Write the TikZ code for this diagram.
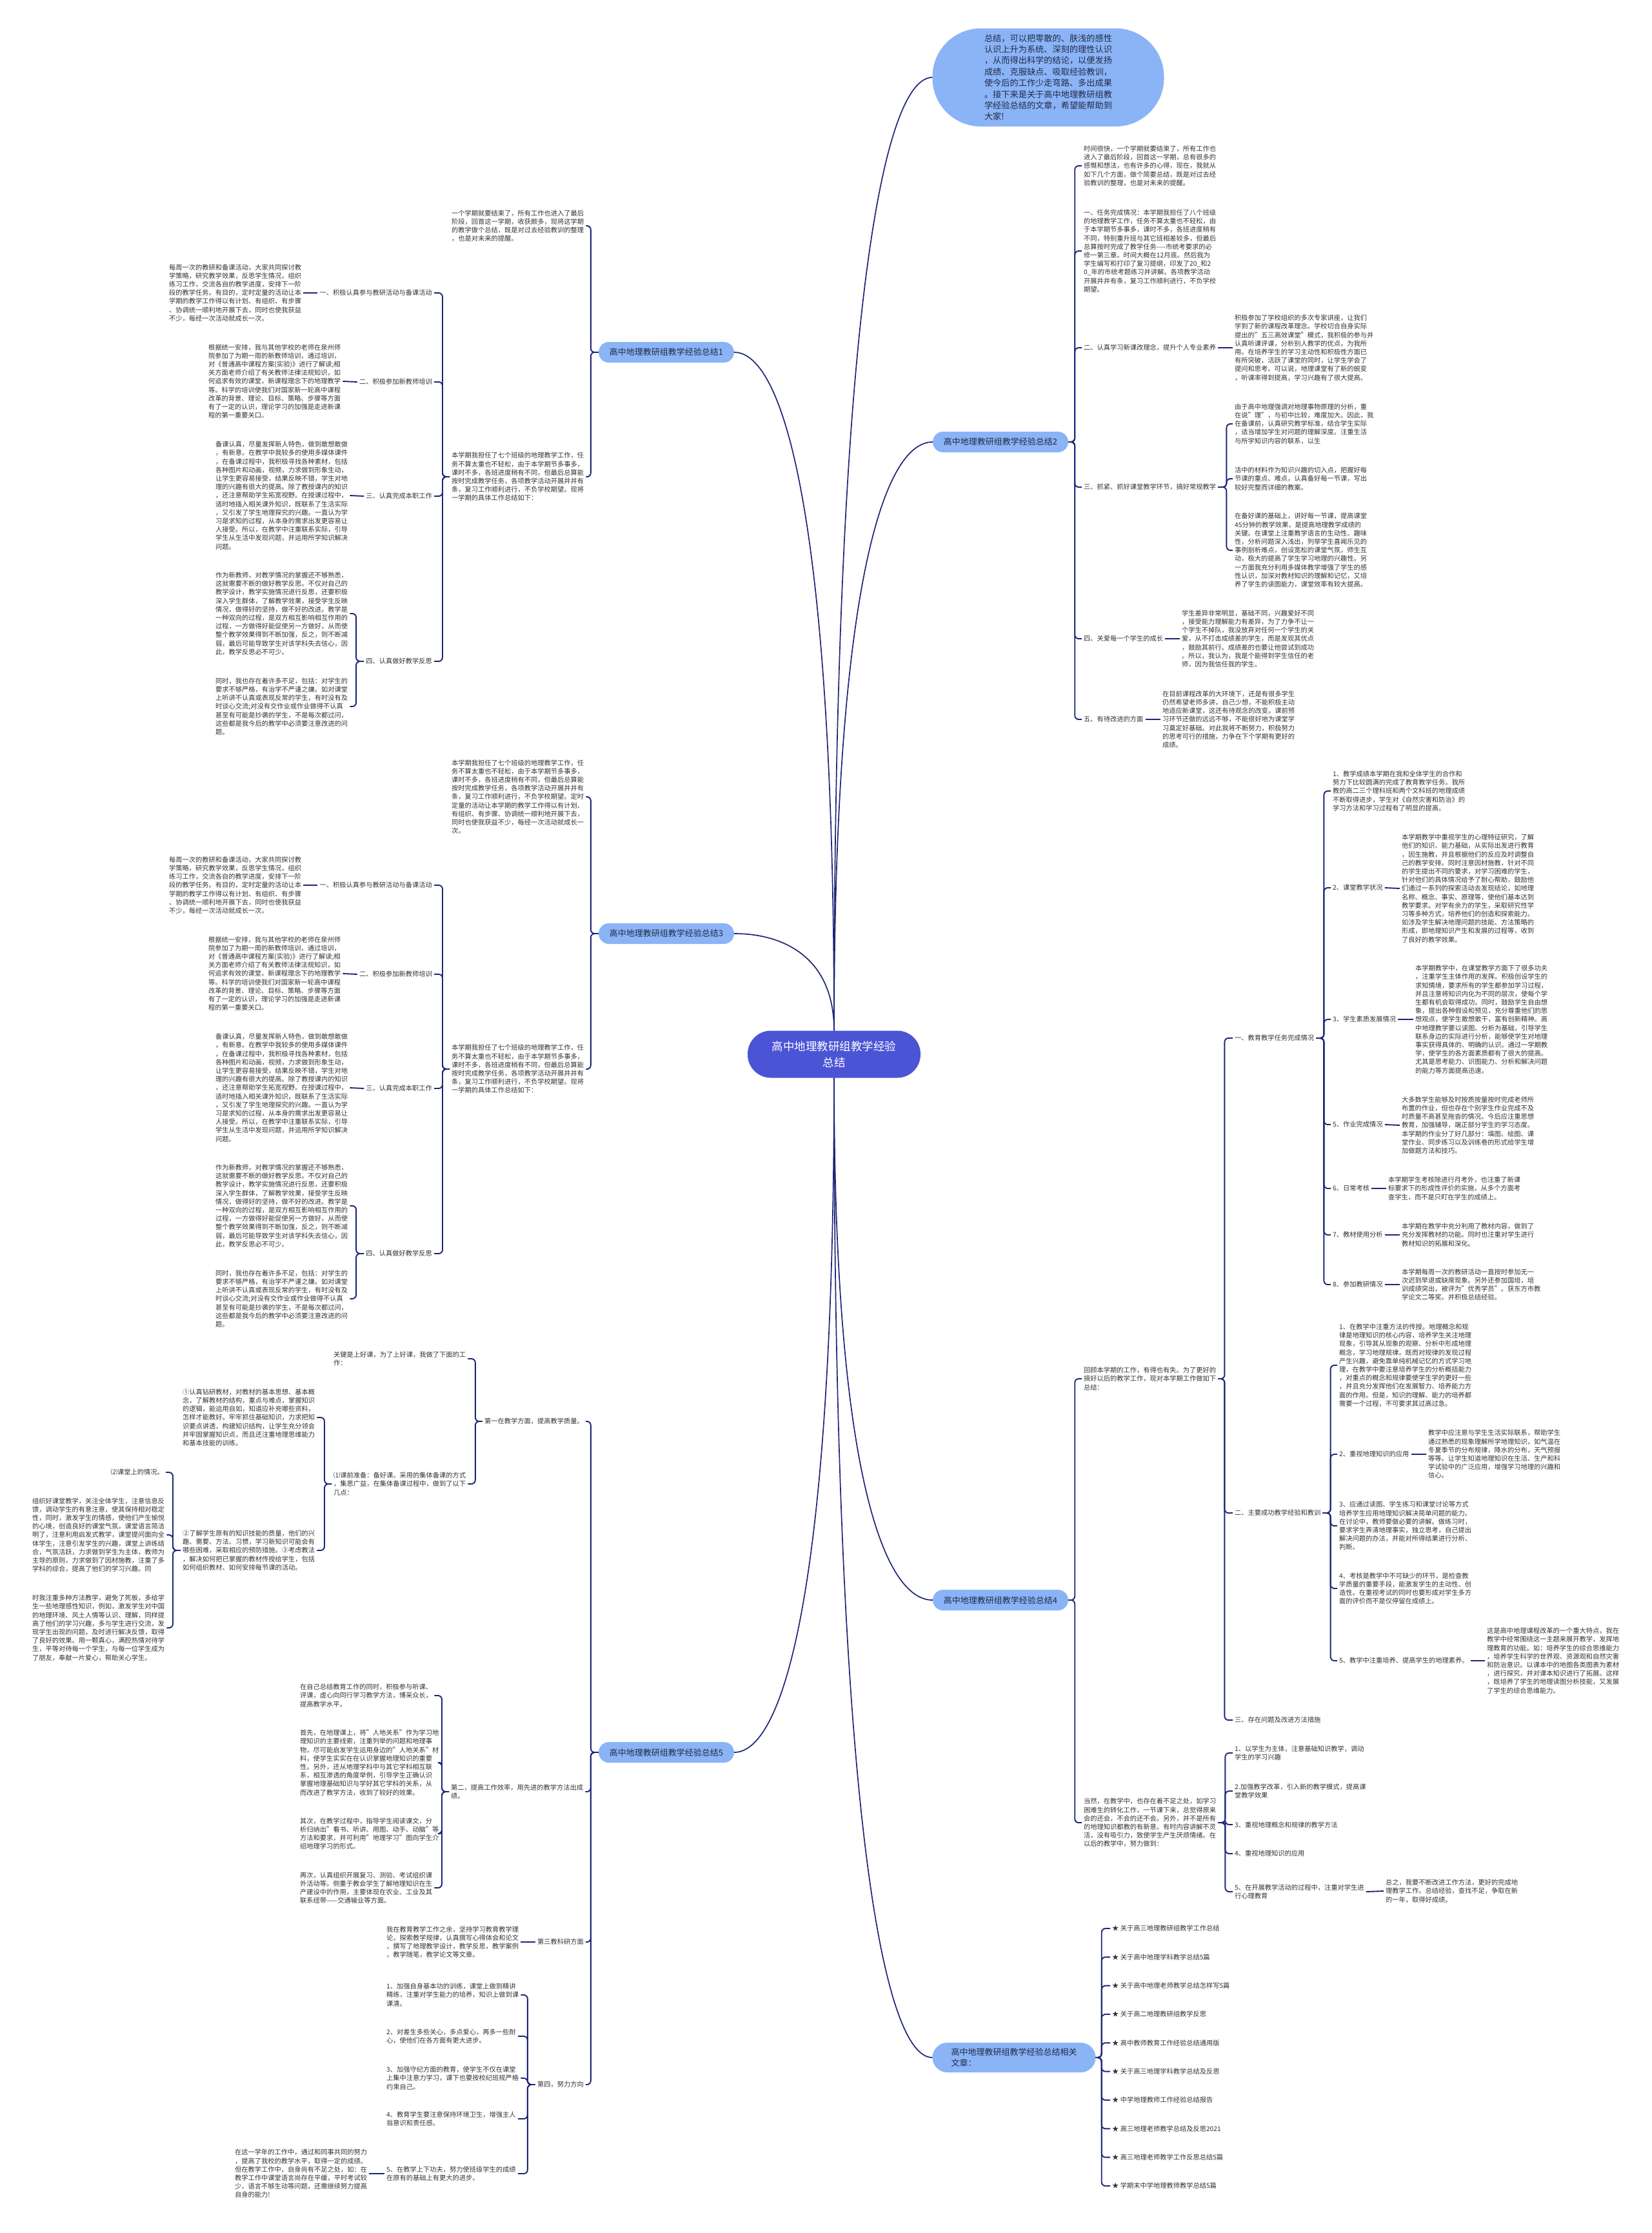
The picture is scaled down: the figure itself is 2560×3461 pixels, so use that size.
\documentclass[tikz,border=0pt]{standalone}
\usepackage{fontspec}
\setmainfont{Noto Sans CJK SC}
\usetikzlibrary{calc}
\definecolor{rblue}{RGB}{74,84,212}
\definecolor{lblue}{RGB}{138,180,246}
\definecolor{navy}{RGB}{30,38,118}
\definecolor{ntext}{RGB}{34,42,70}
\definecolor{tgray}{RGB}{51,51,51}
\newcommand\smalltxt{\fontsize{10.25}{13.2}\selectfont}

\begin{document}
\begin{tikzpicture}[x=1pt,y=-1pt,
        root/.style={fill=rblue,text=white,rounded corners=36pt,minimum width=268,minimum height=73,align=center,font=\fontsize{17.5}{25}\selectfont},
        sub/.style={fill=lblue,text=ntext,rounded corners=16pt,minimum width=210,minimum height=32,align=left,font=\fontsize{13}{17.4}\selectfont},
        txt/.style={text=tgray,align=left,inner xsep=3pt,inner ysep=1pt,font=\smalltxt},
        link/.style={draw=navy,line width=1.7pt,to path={.. controls ($(\tikztostart)!.75!(\tikztostart|-\tikztotarget)$) and ($(\tikztotarget)!.5!(\tikztostart|-\tikztotarget)$) .. (\tikztotarget) \tikztonodes}},
        brk/.style={draw=navy,line width=1.9pt,rounded corners=6pt}]
        \path[use as bounding box,fill=white] (0,0) rectangle (2560,3461);
        \node[root](root) at (1293,1634){高中地理教研组教学经验\\总结};
        \node[sub,rounded corners=75pt,minimum width=359,minimum height=152,font=\fontsize{13.2}{17.4}\selectfont](intro) at (1625,120)
              {总结，可以把零散的、肤浅的感性\\认识上升为系统、深刻的理性认识\\，从而得出科学的结论，以便发扬\\成绩、克服缺点、吸取经验教训，\\使今后的工作少走弯路、多出成果\\。接下来是关于高中地理教研组教\\学经验总结的文章，希望能帮助到\\大家!};
        \node[sub](s1) at (1033,546){高中地理教研组教学经验总结1};
        \node[sub](s2) at (1551,685){高中地理教研组教学经验总结2};
        \node[sub](s3) at (1033,1447){高中地理教研组教学经验总结3};
        \node[sub](s4) at (1551,2480){高中地理教研组教学经验总结4};
        \node[sub](s5) at (1033,2716){高中地理教研组教学经验总结5};
        \node[sub,minimum width=253,minimum height=46,rounded corners=23pt](rel) at (1572,3189){高中地理教研组教学经验总结相关\\文章：};
        \foreach \t in {intro,s2}{\draw[link](root.north) to (\t.west);}
        \foreach \t in {s1,s3}{\draw[link](root.north) to (\t.east);}
        \foreach \t in {s4,rel}{\draw[link](root.south) to (\t.west);}
        \draw[link](root.south) to (s5.east);

        \node[txt,anchor=west](s2a) at (1677,257){时间很快，一个学期就要结束了，所有工作也\\进入了最后阶段，回首这一学期，总有很多的\\感慨和想法，也有许多的心得，现在，我就从\\如下几个方面，做个简要总结，既是对过去经\\验教训的整理，也是对未来的提醒。};
        \node[txt,anchor=west](s2b) at (1677,389){一、任务完成情况：本学期我担任了八个班级\\的地理教学工作，任务不算太重也不轻松，由\\于本学期节多事多，课时不多，各班进度稍有\\不同，特别重升班与其它班相差较多，但最后\\总算按时完成了教学任务-{}-{}-{}-市统考要求的必\\修一第三章。时间大概在12月底。然后我为\\学生编写和打印了复习提纲，印发了20\_和2\\0\_年的市统考题练习并讲解。各项教学活动\\开展井井有条，复习工作顺利进行，不负学校\\期望。};
        \node[txt,anchor=west](s2c) at (1677,539){二、认真学习新课改理念，提升个人专业素养};
        \node[txt,anchor=west](s2cx) at (1911,539){积极参加了学校组织的多次专家讲座，让我们\\学到了新的课程改革理念。学校切合自身实际\\提出的"五三高效课堂"模式，我积极的参与并\\认真听课评课，分析别人教学的优点，为我所\\用。在培养学生的学习主动性和积极性方面已\\有所突破，活跃了课堂的同时，让学生学会了\\提问和思考。可以说，地理课堂有了新的蜕变\\，听课率得到提高，学习兴趣有了很大提高。};
        \node[txt,anchor=west](s2d) at (1677,755){三、抓紧、抓好课堂教学环节，搞好常规教学};
        \node[txt,anchor=west](s2d1) at (1911,657){由于高中地理强调对地理事物原理的分析，重\\在说"理"，与初中比较，难度加大。因此，我\\在备课前，认真研究教学标准，结合学生实际\\，适当增加学生对问题的理解深度。注重生活\\与所学知识内容的联系，以生};
        \node[txt,anchor=west](s2d2) at (1911,742){活中的材料作为知识兴趣的切入点，把握好每\\节课的重点、难点，认真备好每一节课，写出\\较好完整而详细的教案。};
        \node[txt,anchor=west](s2d3) at (1911,853){在备好课的基础上，讲好每一节课，提高课堂\\45分钟的教学效果，是提高地理教学成绩的\\关键。在课堂上注重教学语言的生动性、趣味\\性，分析问题深入浅出，列举学生喜闻乐见的\\事例剖析难点，创设宽松的课堂气氛，师生互\\动，极大的提高了学生学习地理的兴趣性。另\\一方面我充分利用多媒体教学增强了学生的感\\性认识，加深对教材知识的理解和记忆，又培\\养了学生的读图能力，课堂效率有较大提高。};
        \node[txt,anchor=west](s2e) at (1677,990){四、关爱每一个学生的成长};
        \node[txt,anchor=west](s2ex) at (1829,990){学生差异非常明显，基础不同，兴趣爱好不同\\，接受能力理解能力有差异，为了力争不让一\\个学生不掉队，我没放弃对任何一个学生的关\\爱，从不打击成绩差的学生，而是发现其优点\\，鼓励其前行。成绩差的也要让他尝试到成功\\。所以，我认为，我是个能得到学生信任的老\\师，因为我信任我的学生。};
        \node[txt,anchor=west](s2f) at (1677,1115){五、有待改进的方面};
        \node[txt,anchor=west](s2fx) at (1799,1115){在目前课程改革的大环境下，还是有很多学生\\仍然希望老师多讲，自己少想，不能积极主动\\地适应新课堂，这还有待观念的改变。课前预\\习环节还做的远远不够，不能很好地为课堂学\\习奠定好基础。对此我将不断努力，积极努力\\的思考可行的措施，力争在下个学期有更好的\\成绩。};
        \foreach \c in {a,b,c,d,e,f}{\draw[brk](s2.east) -- ++(10,0) |- (s2\c.west);}
        \foreach \c in {1,2,3}{\draw[brk](s2d.east) -- ++(13,0) |- (s2d\c.west);}
        \foreach \c in {c,e,f}{\draw[brk](s2\c.east) -- (s2\c x.west);}

        \node[txt,anchor=west](s4a) at (1677,2137){回顾本学期的工作，有得也有失。为了更好的\\搞好以后的教学工作，现对本学期工作做如下\\总结：};
        \node[txt,anchor=west](s4a1) at (1911,1609){一、教育教学任务完成情况};
        \node[txt,anchor=west](g1a) at (2063,1226){1、教学成绩本学期在我和全体学生的合作和\\努力下比较圆满的完成了教育教学任务。我所\\教的高二三个理科班和两个文科班的地理成绩\\不断取得进步，学生对《自然灾害和防治》的\\学习方法和学习过程有了明显的提高。};
        \node[txt,anchor=west](g1b) at (2063,1376){2、课堂教学状况};
        \node[txt,anchor=west](g1bx) at (2170,1377){本学期教学中重视学生的心理特征研究，了解\\他们的知识、能力基础，从实际出发进行教育\\，因生施教，并且根据他们的反应及时调整自\\己的教学安排。同时注意因材施教，针对不同\\的学生提出不同的要求，对学习困难的学生，\\针对他们的具体情况给予了耐心帮助，鼓励他\\们通过一系列的探索活动去发现结论，如地理\\名称、概念、事实、原理等，使他们基本达到\\教学要求。对学有余力的学生，采取研究性学\\习等多种方式，培养他们的创造和探索能力。\\如涉及学生解决地理问题的技能、方法策略的\\形成，即地理知识产生和发展的过程等，收到\\了良好的教学效果。};
        \node[txt,anchor=west](g1c) at (2063,1580){3、学生素质发展情况};
        \node[txt,anchor=west](g1cx) at (2191,1580){本学期教学中，在课堂教学方面下了很多功夫\\，注重学生主体作用的发挥。积极创设学生的\\求知情境，要求所有的学生都参加学习过程，\\并且注意将知识内化为不同的层次，使每个学\\生都有机会取得成功。同时，鼓励学生自由想\\象，提出各种假设和预见，充分尊重他们的思\\想观点，使学生敢想敢干，富有创新精神。高\\中地理教学要以读图、分析为基础，引导学生\\联系身边的实际进行分析，能够使学生对地理\\事实获得具体的、明确的认识。通过一学期教\\学，使学生的各方面素质都有了很大的提高。\\尤其是思考能力、识图能力、分析和解决问题\\的能力等方面提高迅速。};
        \node[txt,anchor=west](g1d) at (2063,1743){5、作业完成情况};
        \node[txt,anchor=west](g1dx) at (2170,1744){大多数学生能够及时按质按量按时完成老师所\\布置的作业，但也存在个别学生作业完成不及\\时质量不高甚至拖沓的情况。今后应注重思想\\教育，加强辅导，端正部分学生的学习态度。\\本学期的作业分了好几部分：填图、绘图、课\\堂作业、同步练习以及训练卷的形式给学生增\\加做题方法和技巧。};
        \node[txt,anchor=west](g1e) at (2063,1842){6、日常考核};
        \node[txt,anchor=west](g1ex) at (2149,1842){本学期学生考核除进行月考外，也注重了新课\\标要求下的形成性评价的实施，从多个方面考\\查学生，而不是只盯在学生的成绩上。};
        \node[txt,anchor=west](g1f) at (2063,1914){7、教材使用分析};
        \node[txt,anchor=west](g1fx) at (2170,1914){本学期在教学中充分利用了教材内容，做到了\\充分发挥教材的功能。同时也注重对学生进行\\教材知识的拓展和深化。};
        \node[txt,anchor=west](g1g) at (2063,1991){8、参加教研情况};
        \node[txt,anchor=west](g1gx) at (2170,1991){本学期每周一次的教研活动一直按时参加无一\\次迟到早退或缺席现象。另外还参加国培，培\\训成绩突出，被评为"优秀学员"。获东方市教\\学论文二等奖。并积极总结经验。};
        \node[txt,anchor=west](s4a2) at (1911,2345){二、主要成功教学经验和教训};
        \node[txt,anchor=west](g2a) at (2073,2116){1、在教学中注重方法的传授。地理概念和规\\律是地理知识的核心内容，培养学生关注地理\\现象，引导其从现象的观察、分析中形成地理\\概念，学习地理规律。既而对规律的发现过程\\产生兴趣，避免靠单纯机械记忆的方式学习地\\理，在教学中要注意培养学生的分析概括能力\\，对重点的概念和规律要使学生学的更好一些\\，并且充分发挥他们在发展智力、培养能力方\\面的作用。但是，知识的理解、能力的培养都\\需要一个过程，不可要求其过高过急。};
        \node[txt,anchor=west](g2b) at (2073,2254){2、重视地理知识的应用};
        \node[txt,anchor=west](g2bx) at (2211,2254){教学中应注意与学生生活实际联系，帮助学生\\通过熟悉的现象理解所学地理知识，如气温在\\冬夏季节的分布规律，降水的分布，天气预报\\等等。让学生知道地理知识在生活、生产和科\\学试验中的广泛应用，增强学习地理的兴趣和\\信心。};
        \node[txt,anchor=west](g2c) at (2073,2365){3、应通过读图、学生练习和课堂讨论等方式\\培养学生应用地理知识解决简单问题的能力。\\在讨论中，教师要做必要的讲解。做练习时，\\要求学生弄清地理事实，独立思考，自己提出\\解决问题的办法，并能对所得结果进行分析、\\判断。};
        \node[txt,anchor=west](g2d) at (2073,2462){4、考核是教学中不可缺少的环节，是检查教\\学质量的重要手段，能激发学生的主动性、创\\造性。在重视考试的同时也要形成对学生多方\\面的评价而不是仅停留在成绩上。};
        \node[txt,anchor=west](g2e) at (2073,2574){5、教学中注重培养、提高学生的地理素养。};
        \node[txt,anchor=west](g2ex) at (2302,2574){这是高中地理课程改革的一个重大特点，我在\\教学中经常围绕这一主题来展开教学，发挥地\\理教育的功能。如：培养学生的综合思维能力\\，培养学生科学的世界观、资源观和自然灾害\\和防治意识。以课本中的地图各类图表为素材\\，进行探究，并对课本知识进行了拓展。这样\\，既培养了学生的地理读图分析技能，又发展\\了学生的综合思维能力。};
        \node[txt,anchor=west](s4a3) at (1911,2666){三、存在问题及改进方法措施};
        \node[txt,anchor=west](s4b) at (1677,2825){当然，在教学中，也存在着不足之处，如学习\\困难生的转化工作，一节课下来，总觉得原来\\会的还会，不会的还不会。另外，并不是所有\\的地理知识都教的有新意。有时内容讲解不灵\\活，没有吸引力，致使学生产生厌烦情绪。在\\以后的教学中，努力做到：};
        \node[txt,anchor=west](h1) at (1911,2717){1、以学生为主体，注意基础知识教学，调动\\学生的学习兴趣};
        \node[txt,anchor=west](h2) at (1911,2776){2.加强教学改革，引入新的教学模式，提高课\\堂教学效果};
        \node[txt,anchor=west](h3) at (1911,2828){3、重视地理概念和规律的教学方法};
        \node[txt,anchor=west](h4) at (1911,2873){4、重视地理知识的应用};
        \node[txt,anchor=west](h5) at (1911,2932){5、在开展教学活动的过程中，注重对学生进\\行心理教育};
        \node[txt,anchor=west](h5x) at (2145,2931){总之，我要不断改进工作方法，更好的完成地\\理教学工作。总结经验，查找不足，争取在新\\的一年，取得好成绩。};
        \foreach \c in {a,b}{\draw[brk](s4.east) -- ++(10,0) |- (s4\c.west);}
        \foreach \c in {1,2,3}{\draw[brk](s4a.east) -- ++(10,0) |- (s4a\c.west);}
        \foreach \c in {a,b,c,d,e,f,g}{\draw[brk](s4a1.east) -- ++(12,0) |- (g1\c.west);}
        \foreach \c in {b,c,d,e,f,g}{\draw[brk](g1\c.east) -- (g1\c x.west);}
        \foreach \c in {a,b,c,d,e}{\draw[brk](s4a2.east) -- ++(12,0) |- (g2\c.west);}
        \foreach \c in {b,e}{\draw[brk](g2\c.east) -- (g2\c x.west);}
        \foreach \c in {1,...,5}{\draw[brk](s4b.east) -- ++(11,0) |- (h\c.west);}
        \draw[brk](h5.east) -- (h5x.west);

        \foreach \t [count=\i] in {关于高三地理教研组教学工作总结,关于高中地理学科教学总结5篇,关于高中地理老师教学总结怎样写5篇,关于高二地理教研组教学反思,高中教师教育工作经验总结通用版,关于高三地理学科教学总结及反思,中学地理教师工作经验总结报告,高三地理老师教学总结及反思2021,高三地理老师教学工作反思总结5篇,学期末中学地理教师教学总结5篇}
          {\node[txt,anchor=west](r\i) at (1721,{2989+44.33*(\i-1)}){★ \t};
           \draw[brk](rel.east) -- ++(9,0) |- (r\i.west);}

        \node[txt,anchor=west](s1a) at (697,350){一个学期就要结束了，所有工作也进入了最后\\阶段，回首这一学期，收获颇多，现将这学期\\的教学做个总结，既是对过去经验教训的整理\\，也是对未来的提醒。};
        \node[txt,anchor=west](s3a) at (697,1235){本学期我担任了七个班级的地理教学工作，任\\务不算太重也不轻松，由于本学期节多事多，\\课时不多，各班进度稍有不同，但最后总算能\\按时完成教学任务，各项教学活动开展井井有\\条，复习工作顺利进行，不负学校期望。定时\\定量的活动让本学期的教学工作得以有计划、\\有组织、有步骤、协调统一顺利地开展下去，\\同时也使我获益不少，每经一次活动就成长一\\次。};
        \foreach \p/\dy in {s1/0,s3/918}{
          \node[txt,anchor=west](\p b) at (697,{739+\dy}){本学期我担任了七个班级的地理教学工作，任\\务不算太重也不轻松，由于本学期节多事多，\\课时不多，各班进度稍有不同，但最后总算能\\按时完成教学任务，各项教学活动开展井井有\\条，复习工作顺利进行，不负学校期望。现将\\一学期的具体工作总结如下：};
          \node[txt,anchor=east](\p b1) at (673,{454+\dy}){一、积极认真参与教研活动与备课活动};
          \node[txt,anchor=west](\p b1x) at (259,{454+\dy}){每周一次的教研和备课活动，大家共同探讨教\\学策略，研究教学效果，反思学生情况，组织\\练习工作，交流各自的教学进度，安排下一阶\\段的教学任务。有目的，定时定量的活动让本\\学期的教学工作得以有计划、有组织、有步骤\\、协调统一顺利地开展下去，同时也使我获益\\不少，每经一次活动就成长一次。};
          \node[txt,anchor=east](\p b2) at (673,{592+\dy}){二、积极参加新教师培训};
          \node[txt,anchor=west](\p b2x) at (320,{591+\dy}){根据统一安排，我与其他学校的老师在泉州师\\院参加了为期一周的新教师培训，通过培训，\\对《普通高中课程方案(实验)》进行了解读;相\\关方面老师介绍了有关教师法律法规知识，如\\何追求有效的课堂，新课程理念下的地理教学\\等。科学的培训使我们对国家新一轮高中课程\\改革的背景、理论、目标、策略、步骤等方面\\有了一定的认识，理论学习的加强是走进新课\\程的第一重要关口。};
          \node[txt,anchor=east](\p b3) at (673,{769+\dy}){三、认真完成本职工作};
          \node[txt,anchor=west](\p b3x) at (331,{768+\dy}){备课认真，尽量发挥新人特色，做到敢想敢做\\，有新意。在教学中我较多的使用多媒体课件\\，在备课过程中，我积极寻找各种素材，包括\\各种图片和动画，视频，力求做到形象生动，\\让学生更容易接受，结果反映不错，学生对地\\理的兴趣有很大的提高。除了教授课内的知识\\，还注意帮助学生拓宽视野。在授课过程中，\\适时地插入相关课外知识，既联系了生活实际\\，又引发了学生地理探究的兴趣。一直认为学\\习是求知的过程，从本身的需求出发更容易让\\人接受。所以，在教学中注重联系实际，引导\\学生从生活中发现问题，并运用所学知识解决\\问题。};
          \node[txt,anchor=east](\p b4) at (673,{1025+\dy}){四、认真做好教学反思};
          \node[txt,anchor=west](\p b4a) at (331,{951+\dy}){作为新教师，对教学情况的掌握还不够熟悉，\\这就需要不断的做好教学反思。不仅对自己的\\教学设计，教学实施情况进行反思，还要积极\\深入学生群体，了解教学效果，接受学生反映\\情况，做得好的坚持，做不好的改进。教学是\\一种双向的过程，是双方相互影响相互作用的\\过程，一方做得好能促使另一方做好，从而使\\整个教学效果得到不断加强，反之，则不断减\\弱，最后可能导致学生对该学科失去信心，因\\此，教学反思必不可少。};
          \node[txt,anchor=west](\p b4b) at (331,{1095+\dy}){同时，我也存在着许多不足，包括：对学生的\\要求不够严格，有治学不严谨之嫌。如对课堂\\上听讲不认真或表现反常的学生，有时没有及\\时谈心交流;对没有交作业或作业做得不认真\\甚至有可能是抄袭的学生，不是每次都过问，\\这些都是我今后的教学中必须要注意改进的问\\题。};
          \foreach \c in {a,b}{\draw[brk](\p.west) -- ++(-12,0) |- (\p\c.east);}
          \foreach \c in {1,...,4}{\draw[brk](\p b.west) -- ++(-11,0) |- (\p b\c.east);}
          \foreach \c in {1,2,3}{\draw[brk](\p b\c.west) -- (\p b\c x.east);}
          \foreach \c in {a,b}{\draw[brk](\p b4.west) -- ++(-12,0) |- (\p b4\c.east);}
        }

        \node[txt,anchor=east](s5a) at (908,2203){第一在教学方面，提高教学质量。};
        \node[txt,anchor=west](p1) at (514,2106){关键是上好课，为了上好课，我做了下面的工\\作：};
        \node[txt,anchor=west](p2) at (514,2300){⑴课前准备：备好课。采用的集体备课的方式\\，集思广益，在集体备课过程中，做到了以下\\几点：};
        \node[txt,anchor=west](p2a) at (280,2197){①认真钻研教材，对教材的基本思想、基本概\\念，了解教材的结构，重点与难点，掌握知识\\的逻辑，能运用自如，知道应补充哪些资料，\\怎样才能教好。牢牢抓住基础知识，力求把知\\识要点讲透，构建知识结构，让学生充分领会\\并牢固掌握知识点，而且还注重地理思维能力\\和基本技能的训练。};
        \node[txt,anchor=west](p2b) at (280,2403){②了解学生原有的知识技能的质量，他们的兴\\趣、需要、方法、习惯，学习新知识可能会有\\哪些困难，采取相应的预防措施。③考虑教法\\，解决如何把已掌握的教材传授给学生，包括\\如何组织教材、如何安排每节课的活动。};
        \node[txt,anchor=east](p2b1) at (257,2282){⑵课堂上的情况。};
        \node[txt,anchor=west](p2b2) at (47,2379){组织好课堂教学，关注全体学生，注意信息反\\馈，调动学生的有意注意，使其保持相对稳定\\性，同时，激发学生的情感，使他们产生愉悦\\的心境，创造良好的课堂气氛，课堂语言简洁\\明了，注意利用启发式教学，课堂提问面向全\\体学生，注意引发学生的兴趣，课堂上讲练结\\合，气氛活跃，力求做到学生为主体，教师为\\主导的原则，力求做到了因材施教，注重了多\\学科的综合，提高了他们的学习兴趣。同};
        \node[txt,anchor=west](p2b3) at (47,2523){时我注重多种方法教学，避免了死板，多给学\\生一些地理感性知识，例如，激发学生对中国\\的地理环境、风土人情等认识、理解，同样提\\高了他们的学习兴趣，多与学生进行交流，发\\现学生出现的问题，及时进行解决反馈，取得\\了良好的效果。用一颗真心，满腔热情对待学\\生，平等对待每一个学生，与每一位学生成为\\了朋友，奉献一片爱心，帮助关心学生。};
        \node[txt,anchor=west](s5b) at (696,2777){第二，提高工作效率，用先进的教学方法出成\\绩。};
        \node[txt,anchor=west](q1) at (462,2628){在自己总结教育工作的同时，积极参与听课、\\评课，虚心向同行学习教学方法，博采众长，\\提高教学水平。};
        \node[txt,anchor=west](q2) at (462,2732){首先，在地理课上，将"人地关系"作为学习地\\理知识的主要线索，注重列举的问题和地理事\\物，尽可能启发学生运用身边的"人地关系"材\\料，使学生实实在在认识掌握地理知识的重要\\性。另外，还从地理学科中与其它学科相互联\\系，相互渗透的角度举例，引导学生正确认识\\掌握地理基础知识与学好其它学科的关系，从\\而改进了教学方法，收到了较好的效果。};
        \node[txt,anchor=west](q3) at (462,2842){其次，在教学过程中，指导学生阅读课文，分\\析归纳出"看书、听讲、用图、动手、动脑"等\\方法和要求，并可利用"地理学习"图向学生介\\绍地理学习的形式。};
        \node[txt,anchor=west](q4) at (462,2926){再次，认真组织开展复习、测验、考试组织课\\外活动等。侧重于教会学生了解地理知识在生\\产建设中的作用，主要体现在农业、工业及其\\联系纽带——交通输业等方面。};
        \node[txt,anchor=east](s5c) at (908,3010){第三教科研方面};
        \node[txt,anchor=west](s5cx) at (596,3010){我在教育教学工作之余，坚持学习教育教学理\\论，探索教学规律，认真撰写心得体会和论文\\，撰写了地理教学设计，教学反思，教学案例\\，教学随笔，教学论文等文章。};
        \node[txt,anchor=east](s5d) at (908,3231){第四，努力方向};
        \node[txt,anchor=west](w1) at (596,3092){1、加强自身基本功的训练，课堂上做到精讲\\精练，注重对学生能力的培养，知识上做到课\\课清。};
        \node[txt,anchor=west](w2) at (596,3156){2、对差生多些关心，多点爱心，再多一些耐\\心，使他们在各方面有更大进步。};
        \node[txt,anchor=west](w3) at (596,3221){3、加强守纪方面的教育，使学生不仅在课堂\\上集中注意力学习，课下也要按校纪班规严格\\约束自己。};
        \node[txt,anchor=west](w4) at (596,3284){4、教育学生要注意保持环境卫生，增强主人\\翁意识和责任感。};
        \node[txt,anchor=west](w5) at (596,3369){5、在教学上下功夫，努力使班级学生的成绩\\在原有的基础上有更大的进步。};
        \node[txt,anchor=west](w5x) at (361,3369){在这一学年的工作中，通过和同事共同的努力\\，提高了我校的教学水平，取得一定的成绩。\\但在教学工作中，自身尚有不足之处，如：在\\教学工作中课堂语言尚存在平缓，平时考试较\\少，语言不够生动等问题，还需继续努力提高\\自身的能力!};
        \foreach \c in {a,b,c,d}{\draw[brk](s5.west) -- ++(-12,0) |- (s5\c.east);}
        \foreach \c in {1,2}{\draw[brk](s5a.west) -- ++(-11,0) |- (p\c.east);}
        \foreach \c in {a,b}{\draw[brk](p2.west) -- ++(-11,0) |- (p2\c.east);}
        \foreach \c in {1,2,3}{\draw[brk](p2b.west) -- ++(-12,0) |- (p2b\c.east);}
        \foreach \c in {1,...,4}{\draw[brk](s5b.west) -- ++(-11,0) |- (q\c.east);}
        \draw[brk](s5c.west) -- (s5cx.east);
        \foreach \c in {1,...,5}{\draw[brk](s5d.west) -- ++(-12,0) |- (w\c.east);}
        \draw[brk](w5.west) -- (w5x.east);
      \end{tikzpicture}
\end{document}
